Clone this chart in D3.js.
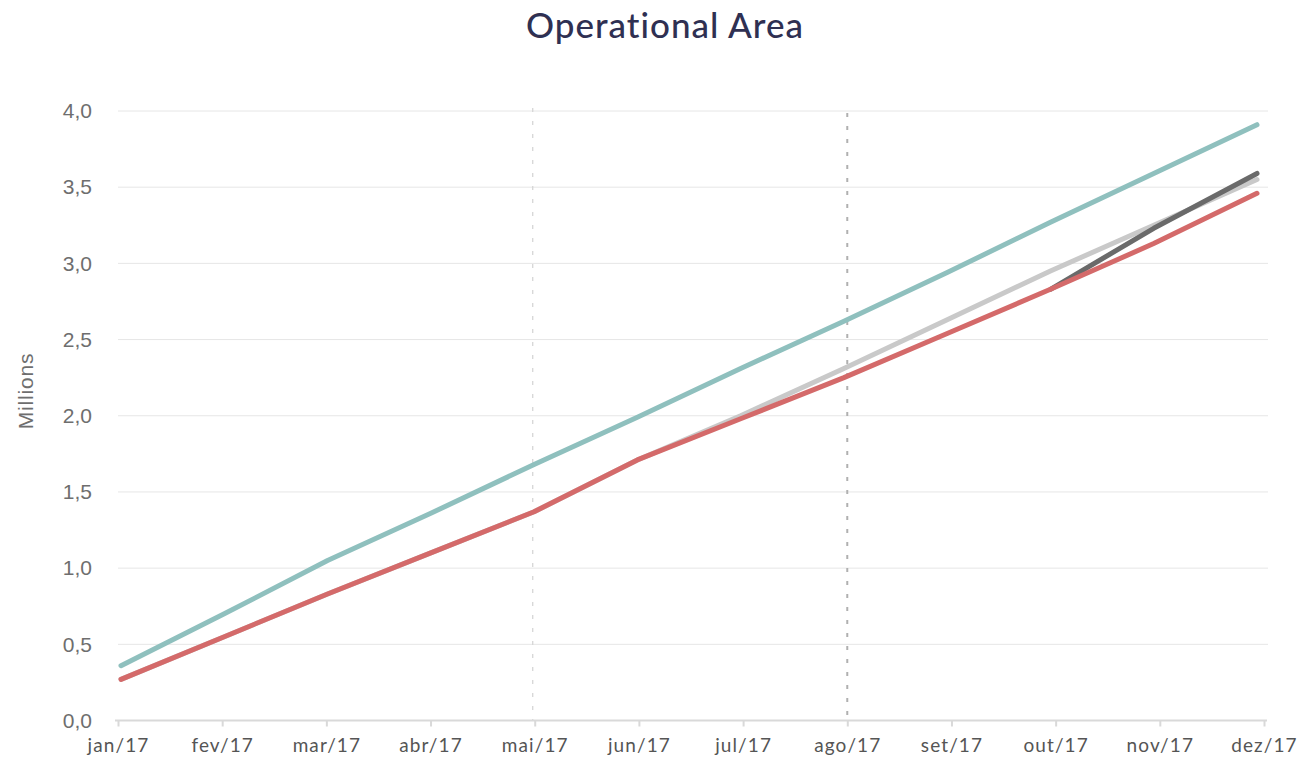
<!DOCTYPE html>
<html>
<head>
<meta charset="utf-8">
<script src="https://cdn.jsdelivr.net/npm/d3@7"></script>
<style>
    body { margin: 0; background: #fff; }
    svg { display: block; }
</style>
</head>
<body>
<svg class="chart"></svg>
<script>
// Chart data
var months = ["jan/17", "fev/17", "mar/17", "abr/17", "mai/17", "jun/17",
              "jul/17", "ago/17", "set/17", "out/17", "nov/17", "dez/17"];
var yTicks = [0, 0.5, 1, 1.5, 2, 2.5, 3, 3.5, 4];
var markedMonths = ["mai/17", "ago/17"];

var tealValues  = [0.36, 0.70, 1.05, 1.36, 1.68, 1.99, 2.31, 2.62, 2.94, 3.27, 3.59, 3.91];
var redValues   = [0.27, 0.55, 0.83, 1.10, 1.37, 1.71, 1.98, 2.25, 2.54, 2.83, 3.13, 3.46];
var lightValues = [0.27, 0.55, 0.83, 1.10, 1.37, 1.71, 2.00, 2.31, 2.63, 2.95, 3.25, 3.55];
var darkValues  = [null, null, null, null, null, null, null, null, null, 2.83, 3.23, 3.59];

var width = 1304;
var height = 763;
var margin = { top: 111, right: 40, bottom: 42, left: 118 };

var chart = d3.select('.chart')
    .attr('width', width)
    .attr('height', height);

// Scales
var xAxisScale = d3.scalePoint()
    .domain(months)
    .range([margin.left, 1264]);

var xLine = d3.scalePoint()
    .domain(months)
    .range([121, 1257]);

var yScale = d3.scaleLinear()
    .domain([0, 4])
    .range([720.5, margin.top]);

// Title
chart.append('text')
    .attr('x', 665)
    .attr('y', 38)
    .attr('text-anchor', 'middle')
    .style('font-family', 'Lato, "Open Sans", sans-serif')
    .style('font-size', '35px')
    .style('font-weight', 500)
    .style('letter-spacing', '1px')
    .style('fill', '#2f3052')
    .text('Operational Area');

// Horizontal gridlines
chart.append('g')
    .selectAll('line')
    .data(yTicks.slice(1))
    .enter()
    .append('line')
    .attr('x1', margin.left)
    .attr('x2', 1268)
    .attr('y1', function(d) { return yScale(d); })
    .attr('y2', function(d) { return yScale(d); })
    .style('stroke', '#e6e6e6')
    .style('stroke-width', 1);

// Y-axis labels
var yAxis = d3.axisLeft(yScale)
    .tickValues(yTicks)
    .tickSize(0)
    .tickPadding(26)
    .tickFormat(function(d) { return d3.format('.1f')(d).replace('.', ','); });

var yG = chart.append('g')
    .attr('transform', 'translate(' + margin.left + ',0)')
    .call(yAxis);
yG.select('.domain').remove();
yG.selectAll('text')
    .style('font-family', '"Liberation Sans", Arial, sans-serif')
    .style('font-size', '21px')
    .style('fill', '#6e6e6e');

chart.append('text')
    .attr('transform', 'translate(33,391) rotate(-90)')
    .attr('text-anchor', 'middle')
    .style('font-family', '"Liberation Sans", Arial, sans-serif')
    .style('font-size', '21px')
    .style('letter-spacing', '0.8px')
    .style('fill', '#6e6e6e')
    .text('Millions');

// Vertical dashed markers
chart.append('line')
    .attr('x1', xAxisScale(markedMonths[0]) - 2)
    .attr('x2', xAxisScale(markedMonths[0]) - 2)
    .attr('y1', 108)
    .attr('y2', yScale(0))
    .style('stroke', '#d6d6d6')
    .style('stroke-width', 1.3)
    .style('stroke-dasharray', '4,9');

chart.append('line')
    .attr('x1', xAxisScale(markedMonths[1]))
    .attr('x2', xAxisScale(markedMonths[1]))
    .attr('y1', 113)
    .attr('y2', yScale(0))
    .style('stroke', '#b0b0b0')
    .style('stroke-width', 2)
    .style('stroke-dasharray', '4,9');

// X axis
var xAxis = d3.axisBottom(xAxisScale)
    .tickSize(6)
    .tickPadding(12);

var xG = chart.append('g')
    .attr('transform', 'translate(0,' + yScale(0) + ')')
    .call(xAxis);
xG.select('.domain')
    .attr('d', 'M' + (margin.left - 3) + ',0H1267')
    .style('stroke', '#d9d9d9')
    .style('stroke-width', 2);
xG.selectAll('.tick line')
    .style('stroke', '#d9d9d9')
    .style('stroke-width', 2);
xG.selectAll('text')
    .style('font-family', 'Lato, "Open Sans", sans-serif')
    .style('font-size', '19px')
    .style('letter-spacing', '1.1px')
    .style('fill', '#555');

// Lines
var line = d3.line()
    .defined(function(d) { return d != null; })
    .x(function(d, i) { return xLine(months[i]); })
    .y(function(d) { return yScale(d); });

function drawSeries(values, color) {
    chart.append('path')
        .datum(values)
        .attr('d', line)
        .style('fill', 'none')
        .style('stroke', color)
        .style('stroke-width', 5)
        .style('stroke-linecap', 'round')
        .style('stroke-linejoin', 'round');
}

drawSeries(lightValues, '#c9c9c9');
drawSeries(darkValues, '#6a6a6a');
drawSeries(tealValues, '#8fc0be');
drawSeries(redValues, '#d46a6a');
</script>
</body>
</html>
